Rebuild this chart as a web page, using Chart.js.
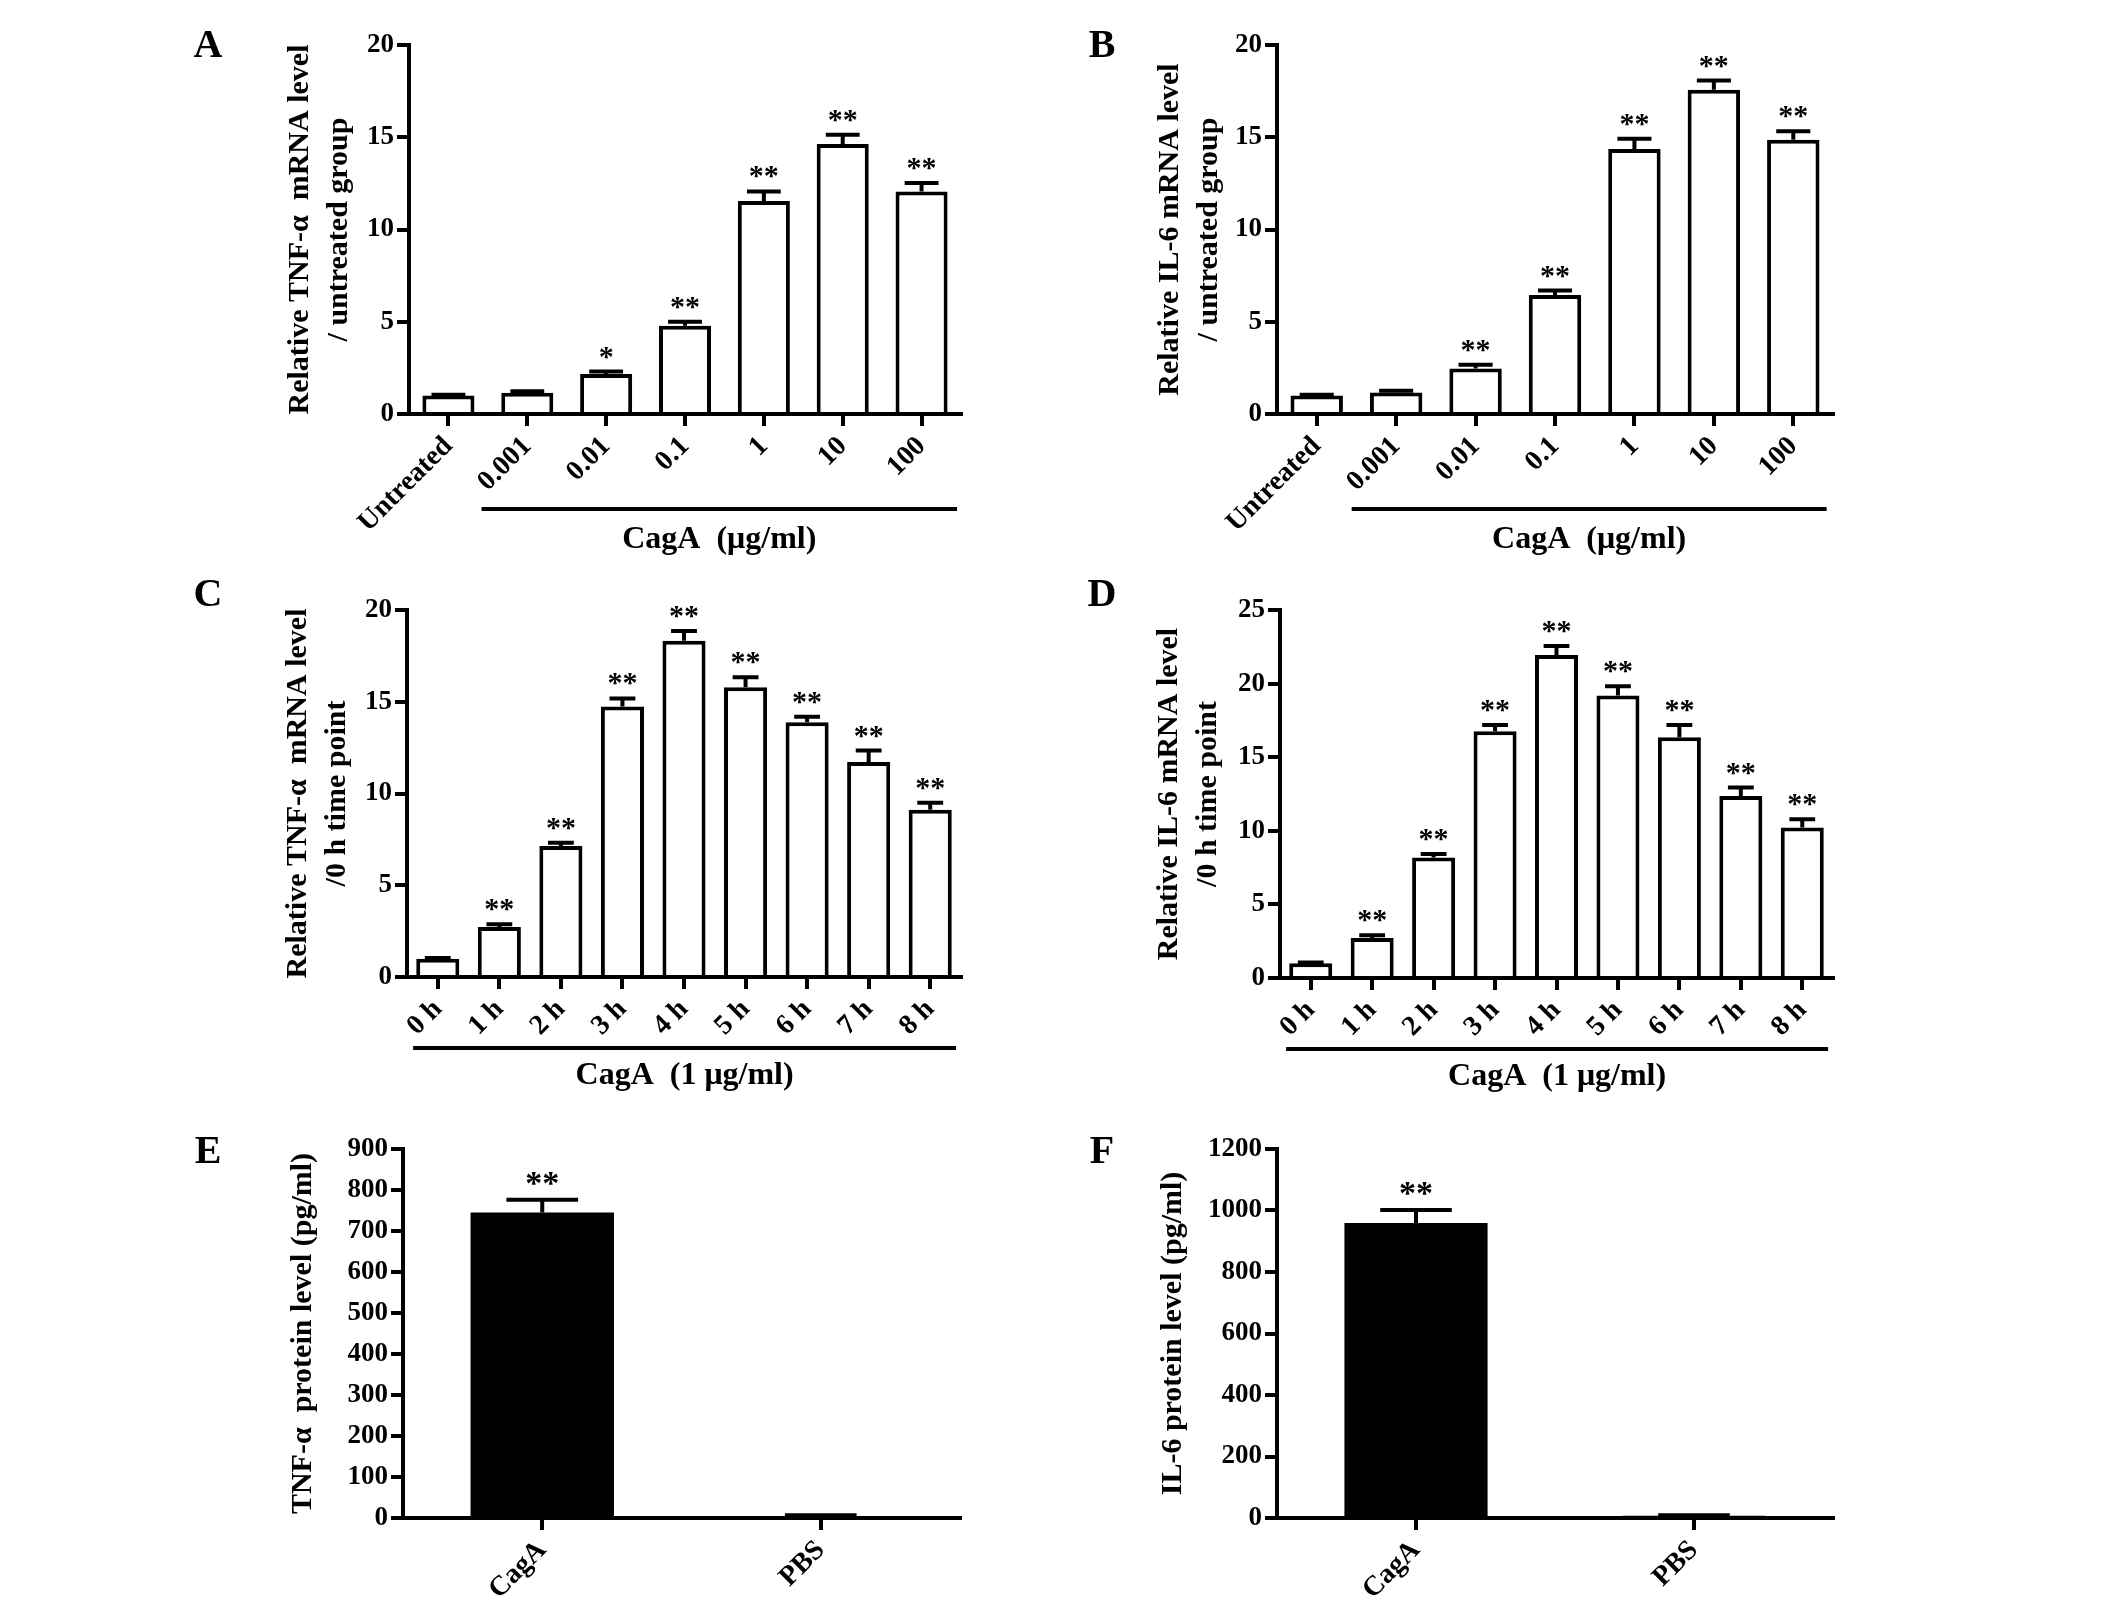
<!DOCTYPE html>
<html>
<head>
<meta charset="utf-8">
<script src="https://cdn.jsdelivr.net/npm/chart.js@4.4.1/dist/chart.umd.min.js"></script>
<style>
  html, body { margin: 0; padding: 0; background: #fff; }
  #fig { position: relative; width: 2126px; height: 1604px; }
  canvas { position: absolute; }
  .tag { position: absolute; font: bold 40px 'Liberation Serif', 'Times New Roman', serif; line-height: 1; transform: translate(-50%, -50%); }
</style>
</head>
<body>
<div id="fig">
  <canvas id="chartA"></canvas>
  <canvas id="chartB"></canvas>
  <canvas id="chartC"></canvas>
  <canvas id="chartD"></canvas>
  <canvas id="chartE"></canvas>
  <canvas id="chartF"></canvas>
  <div class="tag" style="left:208px;top:44px">A</div>
  <div class="tag" style="left:1102px;top:44px">B</div>
  <div class="tag" style="left:208px;top:593px">C</div>
  <div class="tag" style="left:1102px;top:593px">D</div>
  <div class="tag" style="left:208px;top:1150px">E</div>
  <div class="tag" style="left:1102px;top:1150px">F</div>
</div>
<script>
var SERIF = "'Liberation Serif', 'Times New Roman', serif";

// A / B : dose response
var doseLabels = ["Untreated", "0.001", "0.01", "0.1", "1", "10", "100"];
var tnfDoseMean = [1.0, 1.15, 2.17, 4.78, 11.54, 14.63, 12.06];
var tnfDoseErr  = [0.04, 0.08, 0.13, 0.22, 0.52, 0.50, 0.46];
var tnfDoseSig  = ["", "", "*", "**", "**", "**", "**"];
var il6DoseMean = [1.0, 1.16, 2.47, 6.45, 14.36, 17.57, 14.86];
var il6DoseErr  = [0.04, 0.10, 0.20, 0.24, 0.56, 0.50, 0.46];
var il6DoseSig  = ["", "", "**", "**", "**", "**", "**"];

// C / D : time course
var hourLabels  = ["0 h", "1 h", "2 h", "3 h", "4 h", "5 h", "6 h", "7 h", "8 h"];
var tnfTimeMean = [1.0, 2.72, 7.14, 14.74, 18.33, 15.79, 13.88, 11.71, 9.11];
var tnfTimeErr  = [0.04, 0.15, 0.17, 0.44, 0.52, 0.54, 0.30, 0.63, 0.38];
var il6TimeMean = [1.0, 2.72, 8.19, 16.76, 21.94, 19.20, 16.36, 12.37, 10.22];
var il6TimeErr  = [0.05, 0.19, 0.24, 0.43, 0.62, 0.62, 0.83, 0.57, 0.57];
var timeSig     = ["", "**", "**", "**", "**", "**", "**", "**", "**"];

// E / F : protein
var proteinLabels = ["CagA", "PBS"];
var tnfProtein    = [745, 5];
var tnfProteinErr = [31, 1.5];
var il6Protein    = [959, 7];
var il6ProteinErr = [43, 2];
var proteinSig    = ["**", ""];

function extras(errors, marks, starSize, capFrac, group) {
  return {
    id: 'extras',
    afterDatasetsDraw: function(chart) {
      var ctx = chart.ctx;
      var xs = chart.scales.x, ys = chart.scales.y;
      var values = chart.data.datasets[0].data;
      ctx.save();
      ctx.strokeStyle = '#000';
      ctx.fillStyle = '#000';
      ctx.lineWidth = 4;
      chart.getDatasetMeta(0).data.forEach(function(bar, i) {
        var top = ys.getPixelForValue(values[i] + errors[i]);
        var half = bar.width * capFrac / 2;
        ctx.beginPath();
        ctx.moveTo(bar.x, bar.y);
        ctx.lineTo(bar.x, top);
        ctx.moveTo(bar.x - half, top);
        ctx.lineTo(bar.x + half, top);
        ctx.stroke();
        if (marks[i]) {
          ctx.font = 'bold ' + starSize + 'px ' + SERIF;
          ctx.textAlign = 'center';
          ctx.textBaseline = 'alphabetic';
          ctx.fillText(marks[i], bar.x, top - 6);
        }
      });
      if (group) {
        var w = xs.getPixelForValue(1) - xs.getPixelForValue(0);
        var x0 = xs.getPixelForValue(group.from) - w * group.padL;
        var x1 = xs.getPixelForValue(group.to) + w * group.padR;
        var ly = chart.chartArea.bottom + group.line;
        ctx.beginPath();
        ctx.moveTo(x0, ly);
        ctx.lineTo(x1, ly);
        ctx.stroke();
        ctx.font = 'bold 32px ' + SERIF;
        ctx.textAlign = 'center';
        ctx.textBaseline = 'middle';
        ctx.fillText(group.text, (x0 + x1) / 2, chart.chartArea.bottom + group.textY);
      }
      ctx.restore();
    }
  };
}

function panel(id, box, area, opt) {
  var cv = document.getElementById(id);
  cv.width = box[2];
  cv.height = box[3];
  cv.style.left = box[0] + 'px';
  cv.style.top = box[1] + 'px';
  cv.style.width = box[2] + 'px';
  cv.style.height = box[3] + 'px';
  var yWidth = area.left - box[0];
  var xHeight = box[1] + box[3] - area.bottom;
  var lh = 1.3, tsize = 30;
  var black = opt.fill === '#000';
  new Chart(cv, {
    type: 'bar',
    data: {
      labels: opt.labels,
      datasets: [{
        data: opt.values,
        backgroundColor: opt.fill,
        borderColor: '#000',
        borderWidth: black ? 0 : 4,
        barPercentage: opt.barPct,
        categoryPercentage: 1
      }]
    },
    options: {
      responsive: false,
      animation: false,
      layout: { padding: { left: 0, top: area.top - box[1], right: box[0] + box[2] - area.right, bottom: 0 } },
      plugins: { legend: { display: false }, tooltip: { enabled: false } },
      scales: {
        x: {
          offset: true,
          grid: { offset: false, drawOnChartArea: false, tickLength: 12, lineWidth: 4, color: '#000' },
          border: { width: 4, color: '#000' },
          ticks: { color: '#000', font: { family: SERIF, size: 28, weight: 'bold' }, minRotation: 45, maxRotation: 45, padding: 4, autoSkip: false },
          afterFit: function(s) { s.height = xHeight; }
        },
        y: {
          min: 0,
          max: opt.max,
          ticks: {
            stepSize: opt.step, color: '#000', padding: 3,
            font: { family: SERIF, size: 27, weight: 'bold' },
            callback: function(v) { return String(v); }
          },
          grid: { drawOnChartArea: false, tickLength: 12, lineWidth: 4, color: '#000' },
          border: { width: 4, color: '#000' },
          title: {
            display: true,
            text: opt.title,
            color: '#000',
            font: { family: SERIF, size: tsize, weight: 'bold', lineHeight: lh },
            padding: { top: opt.titleX - box[0] - tsize * lh / 2, bottom: 0 }
          },
          afterFit: function(s) { s.width = yWidth; }
        }
      }
    },
    plugins: [extras(opt.errors, opt.sig, opt.star, opt.cap, opt.group)]
  });
}

panel('chartA', [150, 0, 900, 580], { left: 409, top: 45, right: 961, bottom: 414 }, {
  labels: doseLabels, values: tnfDoseMean, errors: tnfDoseErr, sig: tnfDoseSig,
  max: 20, step: 5, fill: '#fff', barPct: 0.66, cap: 0.65, star: 30,
  title: ['Relative TNF-\u03b1  mRNA level', '/ untreated group'], titleX: 300,
  group: { from: 1, to: 6, padL: 0.58, padR: 0.45, line: 95, textY: 126, text: 'CagA  (\u03bcg/ml)' }
});

panel('chartB', [1040, 0, 900, 580], { left: 1277, top: 45, right: 1833, bottom: 414 }, {
  labels: doseLabels, values: il6DoseMean, errors: il6DoseErr, sig: il6DoseSig,
  max: 20, step: 5, fill: '#fff', barPct: 0.66, cap: 0.65, star: 30,
  title: ['Relative IL-6 mRNA level', '/ untreated group'], titleX: 1170,
  group: { from: 1, to: 6, padL: 0.56, padR: 0.42, line: 95, textY: 126, text: 'CagA  (\u03bcg/ml)' }
});

panel('chartC', [150, 570, 900, 540], { left: 407, top: 610, right: 961, bottom: 977 }, {
  labels: hourLabels, values: tnfTimeMean, errors: tnfTimeErr, sig: timeSig,
  max: 20, step: 5, fill: '#fff', barPct: 0.70, cap: 0.6, star: 30,
  title: ['Relative TNF-\u03b1  mRNA level', '/0 h time point'], titleX: 298,
  group: { from: 0, to: 8, padL: 0.4, padR: 0.42, line: 71, textY: 99, text: 'CagA  (1 \u03bcg/ml)' }
});

panel('chartD', [1040, 570, 900, 540], { left: 1280, top: 610, right: 1833, bottom: 978 }, {
  labels: hourLabels, values: il6TimeMean, errors: il6TimeErr, sig: timeSig,
  max: 25, step: 5, fill: '#fff', barPct: 0.70, cap: 0.6, star: 30,
  title: ['Relative IL-6 mRNA level', '/0 h time point'], titleX: 1169,
  group: { from: 0, to: 8, padL: 0.4, padR: 0.42, line: 71, textY: 99, text: 'CagA  (1 \u03bcg/ml)' }
});

panel('chartE', [150, 1110, 900, 494], { left: 403, top: 1149, right: 960, bottom: 1518 }, {
  labels: proteinLabels, values: tnfProtein, errors: tnfProteinErr, sig: proteinSig,
  max: 900, step: 100, fill: '#000', barPct: 0.515, cap: 0.5, star: 34,
  title: 'TNF-\u03b1  protein level (pg/ml)', titleX: 303, group: null
});

panel('chartF', [1040, 1110, 900, 494], { left: 1277, top: 1149, right: 1833, bottom: 1518 }, {
  labels: proteinLabels, values: il6Protein, errors: il6ProteinErr, sig: proteinSig,
  max: 1200, step: 200, fill: '#000', barPct: 0.515, cap: 0.5, star: 34,
  title: 'IL-6 protein level (pg/ml)', titleX: 1173, group: null
});
</script>
</body>
</html>
